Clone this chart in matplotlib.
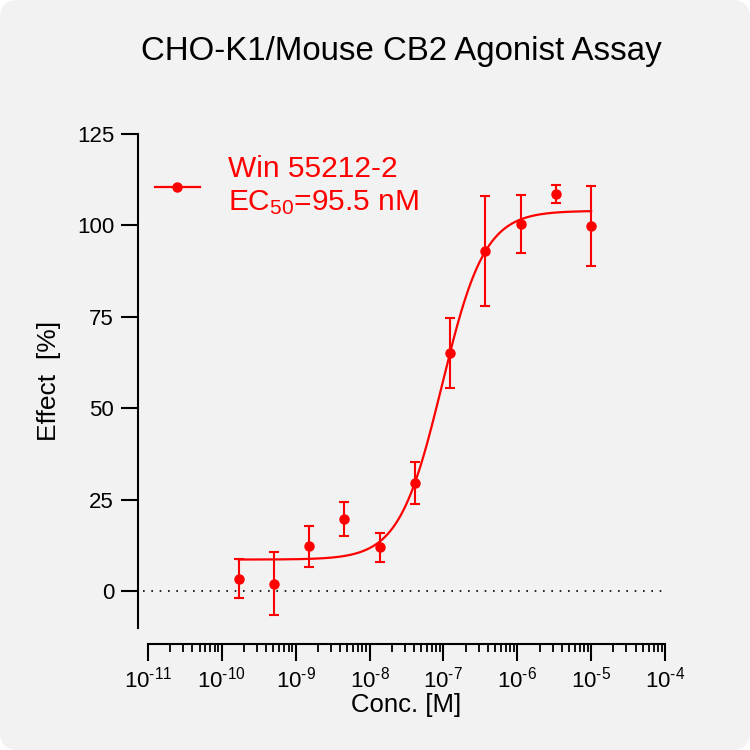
import numpy as np
import matplotlib
matplotlib.use('Agg')
import matplotlib.pyplot as plt
from matplotlib.patches import FancyBboxPatch
from matplotlib.lines import Line2D
from matplotlib.ticker import FixedLocator, NullFormatter, LogLocator

plt.rcParams['font.family'] = ['Liberation Sans', 'DejaVu Sans']
plt.rcParams['mathtext.fontset'] = 'custom'
plt.rcParams['mathtext.rm'] = 'Liberation Sans'
plt.rcParams['mathtext.it'] = 'Liberation Sans:italic'
plt.rcParams['mathtext.default'] = 'regular'

# ---- data ----
conc = [1.69e-10, 5.08e-10, 1.52e-9, 4.57e-9, 1.37e-8, 4.12e-8,
        1.23e-7, 3.70e-7, 1.11e-6, 3.33e-6, 1.0e-5]
effect = [3.5, 2.1, 12.3, 19.8, 12.0, 29.7, 65.1, 93.0, 100.4, 108.6, 99.8]
err = [5.4, 8.6, 5.5, 4.7, 3.9, 5.8, 9.5, 15.0, 7.8, 2.5, 11.0]
fit_bottom = 8.7
fit_top = 104.0
ec50 = 95.5e-9
hill = 1.5
title = "CHO-K1/Mouse CB2 Agonist Assay"
series_label = "Win 55212-2\nEC$_{50}$=95.5 nM"
xtick_exps = [-11, -10, -9, -8, -7, -6, -5, -4]
yticks = [0, 25, 50, 75, 100, 125]

RED = '#ff0000'

fig = plt.figure(figsize=(7.5, 7.5), dpi=100)
fig.patch.set_facecolor('white')
bg = FancyBboxPatch((0, 0), 1, 1, boxstyle="round,pad=0,rounding_size=0.024",
                    transform=fig.transFigure, facecolor='#f2f2f2',
                    edgecolor='none', zorder=-10)
fig.patches.append(bg)

ax = fig.add_axes([148/750, 1-628/750, 517/750, 494/750])
ax.set_facecolor('none')

xs = np.logspace(np.log10(conc[0]), np.log10(conc[-1]), 400)
ys = fit_bottom + (fit_top - fit_bottom) / (1 + (ec50 / xs) ** hill)
ax.plot(xs, ys, color=RED, lw=1.6, zorder=3)

ax.errorbar(conc, effect, yerr=err, fmt='o', color=RED, ms=6.5,
            elinewidth=1.5, capsize=3.3, capthick=1.5, zorder=4)

ax.axhline(0, xmin=-0.01, xmax=0.995, color='black', lw=1.2,
           linestyle=(0, (1, 4.0)), clip_on=False, zorder=2)

ax.set_xscale('log')
ax.set_xlim(1e-11, 1e-4)
ax.set_ylim(-10, 125)

ax.xaxis.set_major_locator(FixedLocator([10.0**e for e in xtick_exps]))
ax.set_xticklabels([r'$10^{\text{-%d}}$' % (-e) for e in xtick_exps])
ax.xaxis.set_minor_locator(LogLocator(base=10, subs=np.arange(2, 10), numticks=50))
ax.xaxis.set_minor_formatter(NullFormatter())
ax.set_yticks(yticks)
ax.set_yticklabels([str(v) for v in yticks])

for s in ['top', 'right']:
    ax.spines[s].set_visible(False)
ax.spines['left'].set_position(('outward', 7.4))
ax.spines['bottom'].set_position(('outward', 11.5))
for s in ['left', 'bottom']:
    ax.spines[s].set_linewidth(1.5)

ax.tick_params(axis='both', which='major', length=12, width=1.5,
               labelsize=16, color='black', pad=5)
ax.tick_params(axis='x', which='major', pad=4)
ax.tick_params(axis='x', which='minor', length=6, width=1.3)
ax.tick_params(axis='y', which='minor', left=False)

ax.set_xlabel('Conc. [M]', fontsize=18.5)
ax.set_ylabel('Effect  [%]', fontsize=19)
ax.xaxis.set_label_coords(0.5, -0.131)
ax.yaxis.set_label_coords(-0.169, 0.5)

fig.text(401/750, 1-60/750, title, ha='center', va='baseline', fontsize=23.8)

handle = Line2D([], [], color=RED, marker='o', ms=6.5, lw=1.6)
leg = ax.legend([handle], [series_label], loc='center left',
                bbox_to_anchor=(155/750, 1-186/750),
                bbox_transform=fig.transFigure, frameon=False,
                fontsize=21.5, labelcolor=RED, numpoints=1,
                handlelength=1.5, handletextpad=0.94,
                borderpad=0, borderaxespad=0)

fig.savefig('out.png', dpi=100, facecolor=fig.get_facecolor())
